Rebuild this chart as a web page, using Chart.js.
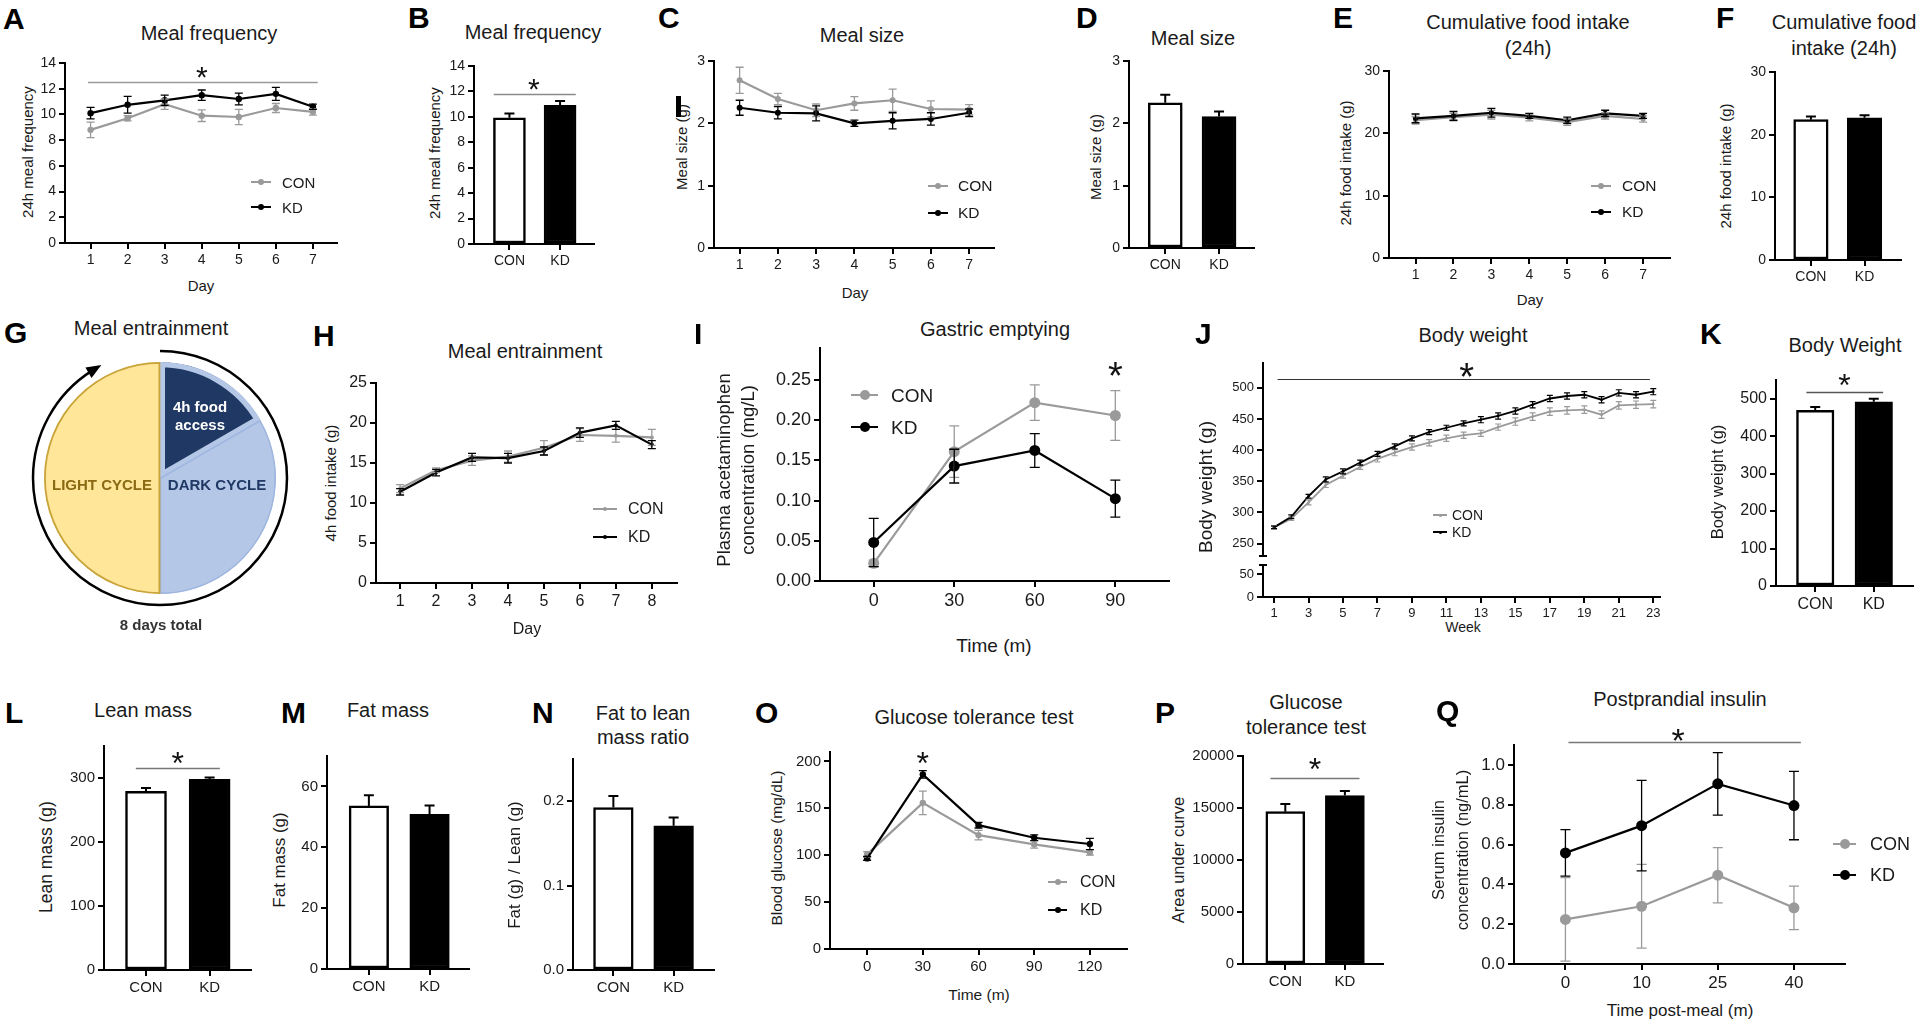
<!DOCTYPE html>
<html>
<head>
<meta charset="utf-8">
<title>Meal pattern, body weight and glucose panels</title>
<script src="https://cdn.jsdelivr.net/npm/chart.js"></script>
<style>
  body { margin: 0; background: #fff; }
  #fig { position: relative; width: 1920px; height: 1025px; overflow: hidden;
         font-family: "Liberation Sans", Arial, Helvetica, sans-serif; color: #1a1a1a; }
  #fig canvas { position: absolute; }
  .t { position: absolute; white-space: nowrap; line-height: 1; }
</style>
</head>
<body>
<div id="fig"></div>
<script>
const FONT = '"Liberation Sans", Arial, Helvetica, sans-serif';
const GREY = '#9a9a9a';
const BLACK = '#000000';

// ---------- data ----------
const groups = ['CON', 'KD'];
const days7 = [1, 2, 3, 4, 5, 6, 7];
const days8 = [1, 2, 3, 4, 5, 6, 7, 8];
const weeks = [1, 2, 3, 4, 5, 6, 7, 8, 9, 10, 11, 12, 13, 14, 15, 16, 17, 18, 19, 20, 21, 22, 23];
const weekTicks = [1, 3, 5, 7, 9, 11, 13, 15, 17, 19, 21, 23];

// A / B meal frequency
const freqTicks = [0, 2, 4, 6, 8, 10, 12, 14];
const freqCon = [8.8, 9.7, 10.8, 9.9, 9.8, 10.5, 10.2];
const freqConErr = [0.6, 0.2, 0.4, 0.45, 0.6, 0.35, 0.25];
const freqKd = [10.1, 10.75, 11.1, 11.5, 11.2, 11.6, 10.6];
const freqKdErr = [0.45, 0.65, 0.4, 0.4, 0.45, 0.5, 0.2];
const freqMeans = [9.92, 10.9];
const freqMeansErr = [0.34, 0.34];

// C / D meal size
const sizeTicks = [0, 1, 2, 3];
const sizeCon = [2.69, 2.39, 2.21, 2.32, 2.37, 2.23, 2.22];
const sizeConErr = [0.21, 0.09, 0.1, 0.11, 0.18, 0.13, 0.08];
const sizeKd = [2.25, 2.17, 2.16, 2.0, 2.04, 2.07, 2.17];
const sizeKdErr = [0.12, 0.1, 0.12, 0.05, 0.13, 0.1, 0.06];
const sizeMeans = [2.33, 2.11];
const sizeMeansErr = [0.13, 0.08];

// E / F cumulative intake
const intakeTicks = [0, 10, 20, 30];
const intakeCon = [22.1, 22.6, 23.0, 22.5, 21.8, 22.8, 22.3];
const intakeConErr = [0.6, 0.6, 0.7, 0.5, 0.5, 0.5, 0.5];
const intakeKd = [22.4, 22.8, 23.3, 22.8, 22.1, 23.2, 22.8];
const intakeKdErr = [0.7, 0.7, 0.7, 0.4, 0.5, 0.5, 0.4];
const intakeMeans = [22.4, 22.7];
const intakeMeansErr = [0.5, 0.4];

// G schedule (hours of the 24h cycle)
const pieLabels = ['4h food access', 'DARK CYCLE', 'LIGHT CYCLE'];
const pieHours = [4, 8, 12];

// H meal entrainment
const entrTicks = [0, 5, 10, 15, 20, 25];
const entrCon = [11.8, 14.1, 15.3, 15.8, 16.9, 18.5, 18.4, 18.2];
const entrConErr = [0.5, 0.3, 0.6, 0.7, 0.9, 0.8, 0.8, 1.0];
const entrKd = [11.4, 13.8, 15.7, 15.6, 16.5, 18.8, 19.7, 17.3];
const entrKdErr = [0.4, 0.4, 0.5, 0.6, 0.5, 0.6, 0.5, 0.5];

// I gastric emptying
const gastTimes = [0, 30, 60, 90];
const gastTicks = [0, 0.05, 0.1, 0.15, 0.2, 0.25];
const gastCon = [0.022, 0.161, 0.222, 0.206];
const gastConErr = [0.004, 0.032, 0.022, 0.031];
const gastKd = [0.048, 0.143, 0.1625, 0.1025];
const gastKdErr = [0.03, 0.021, 0.021, 0.023];

// J / K body weight
const bwTicksUpper = [250, 300, 350, 400, 450, 500];
const bwTicksLower = [0, 50];
const bwCon = [276, 290, 316, 344, 359, 373, 386, 396, 405, 412, 419, 424, 427, 437, 446, 454, 462, 464, 465, 457, 472, 473, 474];
const bwConErr = [3, 3, 4, 4, 4, 4, 5, 5, 5, 5, 5, 5, 5, 5, 6, 6, 6, 6, 6, 6, 6, 6, 6];
const bwKd = [276, 293, 326, 353, 366, 380, 394, 406, 419, 429, 436, 443, 449, 455, 463, 473, 483, 487, 489, 481, 492, 489, 494];
const bwKdErr = [2, 3, 3, 4, 4, 4, 4, 4, 4, 4, 4, 4, 5, 5, 5, 5, 5, 5, 5, 5, 5, 5, 5];
const bwBarTicks = [0, 100, 200, 300, 400, 500];
const bwMeans = [468.7, 492];
const bwMeansErr = [9, 8];

// L / M / N body composition
const leanTicks = [0, 100, 200, 300];
const leanMeans = [279.3, 298];
const leanErr = [5, 2.6];
const fatTicks = [0, 20, 40, 60];
const fatMeans = [53.6, 50.8];
const fatErr = [3.5, 2.9];
const ratioTicks = [0, 0.1, 0.2];
const ratioMeans = [0.1925, 0.1708];
const ratioErr = [0.0138, 0.0099];

// O / P glucose tolerance
const gttTimes = [0, 30, 60, 90, 120];
const gttTicks = [0, 50, 100, 150, 200];
const gttCon = [100.9, 155.8, 121.4, 111.5, 103];
const gttConErr = [3, 12.5, 5, 4, 3];
const gttKd = [96.6, 186.2, 132, 118.6, 111.9];
const gttKdErr = [2, 4, 3, 3, 6];
const aucTicks = [0, 5000, 10000, 15000, 20000];
const aucMeans = [14650, 16190];
const aucErr = [740, 450];

// Q postprandial insulin
const insTimeLabels = ['0', '10', '25', '40'];
const insTicks = [0, 0.2, 0.4, 0.6, 0.8, 1.0];
const insCon = [0.224, 0.29, 0.446, 0.282];
const insConErr = [0.21, 0.21, 0.139, 0.109];
const insKd = [0.558, 0.695, 0.905, 0.796];
const insKdErr = [0.117, 0.227, 0.157, 0.172];

// ---------- helpers ----------
const fig = document.getElementById('fig');
const PT = 26, PR = 16, YW = 70, XH = 34;

function text(str, x, y, size, opts = {}) {
  const d = document.createElement('div');
  d.className = 't';
  d.textContent = str;
  d.style.left = x + 'px';
  d.style.top = y + 'px';
  d.style.fontSize = size + 'px';
  let tf = opts.left ? 'translate(0,-50%)' : 'translate(-50%,-50%)';
  if (opts.rotate) tf += ' rotate(-90deg)';
  d.style.transform = tf;
  if (opts.bold) d.style.fontWeight = 'bold';
  if (opts.color) d.style.color = opts.color;
  fig.appendChild(d);
  return d;
}
const letter = (s, x, y) => text(s, x, y, 30, { left: true, bold: true, color: '#000' });
function title(lines, x, y, size = 20, gap = 25) {
  lines.forEach((s, i) => text(s, x, y + i * gap, size));
}

function legend(x1, x2, tx, ys, size, dot, lw) {
  [GREY, BLACK].forEach((col, i) => {
    const y = ys[i];
    const ln = document.createElement('div');
    ln.style.cssText = `position:absolute;left:${x1}px;top:${y - lw / 2}px;width:${x2 - x1}px;height:${lw}px;background:${col}`;
    fig.appendChild(ln);
    const dt = document.createElement('div');
    dt.style.cssText = `position:absolute;left:${(x1 + x2) / 2 - dot / 2}px;top:${y - dot / 2}px;width:${dot}px;height:${dot}px;border-radius:50%;background:${col}`;
    fig.appendChild(dt);
    text(groups[i], tx, y, size, { left: true });
  });
}

// error bars: symmetric for lines, upward only for bars
const errorBars = {
  id: 'errorBars',
  afterDatasetsDraw(chart) {
    const ctx = chart.ctx;
    const ys = chart.scales.y;
    chart.data.datasets.forEach((ds, di) => {
      if (!ds.err) return;
      const meta = chart.getDatasetMeta(di);
      ctx.save();
      ctx.strokeStyle = ds.errColor || ds.borderColor;
      ctx.lineWidth = ds.errWidth || 1.3;
      const cw = ds.capWidth || 4;
      meta.data.forEach((el, i) => {
        const v = ds.data[i].y;
        const e = ds.err[i];
        const top = ys.getPixelForValue(v + e);
        const bot = ds.isBar ? el.y : ys.getPixelForValue(v - e);
        ctx.beginPath();
        ctx.moveTo(el.x, top); ctx.lineTo(el.x, bot);
        ctx.moveTo(el.x - cw, top); ctx.lineTo(el.x + cw, top);
        if (!ds.isBar) { ctx.moveTo(el.x - cw, bot); ctx.lineTo(el.x + cw, bot); }
        ctx.stroke();
      });
      ctx.restore();
    });
  }
};

// significance bar and asterisk
const sig = {
  id: 'sig',
  afterDraw(chart, args, o) {
    if (!o || (!o.line && !o.star)) return;
    const { ctx, scales: { x, y } } = chart;
    ctx.save();
    if (o.line) {
      const py = Math.round(y.getPixelForValue(o.line.y)) + 0.5;
      ctx.strokeStyle = o.color || '#808080';
      ctx.lineWidth = o.width || 1.5;
      ctx.beginPath();
      ctx.moveTo(x.getPixelForValue(o.line.x1), py);
      ctx.lineTo(x.getPixelForValue(o.line.x2), py);
      ctx.stroke();
    }
    if (o.star) {
      const size = o.size || 28;
      ctx.fillStyle = '#111';
      ctx.font = `${size}px ${FONT}`;
      ctx.textAlign = 'center';
      ctx.textBaseline = 'alphabetic';
      ctx.fillText('*', x.getPixelForValue(o.star.x), y.getPixelForValue(o.star.y) + 0.57 * size);
    }
    ctx.restore();
  }
};

// little end caps where the body weight axis is broken
const breakCaps = {
  id: 'breakCaps',
  afterDraw(chart, args, o) {
    if (!o || !o.at) return;
    const { ctx, chartArea } = chart;
    const py = o.at === 'bottom' ? chartArea.bottom : chartArea.top;
    ctx.save();
    ctx.strokeStyle = '#000';
    ctx.lineWidth = 2;
    ctx.beginPath();
    ctx.moveTo(chartArea.left - 4, py); ctx.lineTo(chartArea.left + 4, py);
    ctx.stroke();
    ctx.restore();
  }
};

function axis(size, a) {
  return {
    type: 'linear', display: !a.hide, min: a.min, max: a.max, offset: false,
    border: { display: true, color: '#000', width: 2 },
    grid: { display: true, drawOnChartArea: false, drawTicks: true, tickLength: 6, color: '#000', lineWidth: 2, offset: false },
    ticks: { font: { family: FONT, size }, color: '#1a1a1a', padding: 3, maxRotation: 0, autoSkip: false,
             callback: a.fmt || (v => String(v)) },
    afterBuildTicks: s => { s.ticks = a.ticks.map(v => ({ value: v })); },
    afterFit: s => { if (a.horizontal) s.height = a.hide ? 0 : XH; else s.width = YW; }
  };
}

function baseOptions(o) {
  return {
    responsive: false, animation: false, events: [],
    layout: { padding: { top: PT, right: PR, left: 0, bottom: o.hideX ? 12 : 0 } },
    plugins: { legend: { display: false }, tooltip: { enabled: false }, sig: o.sig || {}, breakCaps: o.caps || {} },
    scales: {
      x: axis(o.tick, { min: o.x[0], max: o.x[1], ticks: o.xTicks, fmt: o.xFmt, hide: o.hideX, horizontal: true }),
      y: axis(o.tick, { min: o.y[0], max: o.y[1], ticks: o.yTicks, fmt: o.yFmt })
    }
  };
}

function addChart(rect, cfg, hideX) {
  const c = document.createElement('canvas');
  const xh = hideX ? 12 : XH;
  c.width = rect.r - rect.l + YW + PR;
  c.height = rect.b - rect.t + PT + xh;
  c.style.left = (rect.l - YW) + 'px';
  c.style.top = (rect.t - PT) + 'px';
  fig.appendChild(c);
  return new Chart(c, cfg);
}

function lineChart(rect, o) {
  const datasets = o.series.map((s, k) => ({
    data: o.xs.map((x, i) => ({ x, y: s.y[i] })),
    err: s.err,
    borderColor: s.color, backgroundColor: s.color,
    pointBackgroundColor: s.color, pointBorderColor: s.color, pointBorderWidth: 0,
    pointRadius: o.pointR, borderWidth: o.lineW, tension: 0,
    capWidth: o.capW, errWidth: o.errW || 1.3, order: o.series.length - k
  }));
  return addChart(rect, { type: 'line', data: { datasets }, options: baseOptions(o), plugins: [errorBars, sig, breakCaps] }, o.hideX);
}

function barChart(rect, o) {
  const datasets = [{
    data: o.means.map((y, i) => ({ x: i + 1, y })),
    err: o.err, isBar: true,
    backgroundColor: ['#ffffff', '#000000'], borderColor: '#000', borderWidth: 2.5, borderSkipped: false,
    barThickness: o.bw, capWidth: 5, errWidth: 2, errColor: '#000'
  }];
  const opts = baseOptions(Object.assign({ xTicks: [1, 2], xFmt: v => groups[v - 1] }, o));
  return addChart(rect, { type: 'bar', data: { datasets }, options: opts, plugins: [errorBars, sig] });
}

const series = (con, conErr, kd, kdErr) => [
  { y: con, err: conErr, color: GREY },
  { y: kd, err: kdErr, color: BLACK }
];

// ---------- A ----------
letter('A', 3, 19);
title(['Meal frequency'], 209, 33);
text('24h meal frequency', 27, 152, 15, { rotate: true });
text('Day', 201, 285, 15);
lineChart({ l: 65, t: 63, r: 337, b: 243 }, {
  xs: days7, x: [0.31, 7.65], xTicks: days7, y: [0, 14], yTicks: freqTicks, tick: 14,
  pointR: 3.2, lineW: 2.2, capW: 4, series: series(freqCon, freqConErr, freqKd, freqKdErr),
  sig: { line: { x1: 0.93, x2: 7.13, y: 12.5 }, star: { x: 4, y: 13.46 }, color: '#9a9a9a', size: 30 }
});
legend(251, 271, 282, [182, 207], 15, 6, 2);

// ---------- B ----------
letter('B', 408, 18);
title(['Meal frequency'], 533, 32);
text('24h meal frequency', 434, 153, 15, { rotate: true });
barChart({ l: 474, t: 66, r: 594, b: 244 }, {
  means: freqMeans, err: freqMeansErr, bw: 32, x: [0.3, 2.67], y: [0, 14], yTicks: freqTicks, tick: 14,
  sig: { line: { x1: 0.69, x2: 2.31, y: 11.77 }, star: { x: 1.48, y: 12.74 }, color: '#8a8a8a', size: 30 }
});

// ---------- C ----------
letter('C', 658, 18);
title(['Meal size'], 862, 35);
text('Meal size (g)', 681, 147, 15, { rotate: true });
text('Day', 855, 292, 15);
lineChart({ l: 714, t: 61, r: 994, b: 248 }, {
  xs: days7, x: [0.33, 7.65], xTicks: days7, y: [0, 3], yTicks: sizeTicks, tick: 14,
  pointR: 3, lineW: 2.2, capW: 4, series: series(sizeCon, sizeConErr, sizeKd, sizeKdErr)
});
legend(928, 948, 958, [186, 213], 15.5, 6, 2);
const smudge = document.createElement('div');
smudge.style.cssText = 'position:absolute;left:676px;top:96px;width:5px;height:21px;background:#000';
fig.appendChild(smudge);

// ---------- D ----------
letter('D', 1076, 18);
title(['Meal size'], 1193, 38);
text('Meal size (g)', 1095, 157, 15, { rotate: true });
barChart({ l: 1129, t: 61, r: 1254, b: 248 }, {
  means: sizeMeans, err: sizeMeansErr, bw: 34, x: [0.326, 2.65], y: [0, 3], yTicks: sizeTicks, tick: 14
});

// ---------- E ----------
letter('E', 1333, 18);
title(['Cumulative food intake', '(24h)'], 1528, 22, 20, 26);
text('24h food intake (g)', 1345, 163, 15, { rotate: true });
text('Day', 1530, 299, 15);
lineChart({ l: 1389, t: 71, r: 1670, b: 258 }, {
  xs: days7, x: [0.3, 7.71], xTicks: days7, y: [0, 30], yTicks: intakeTicks, tick: 14,
  pointR: 2.6, lineW: 2.2, capW: 4, series: series(intakeCon, intakeConErr, intakeKd, intakeKdErr)
});
legend(1591, 1611, 1622, [186, 212], 15.5, 6, 2);

// ---------- F ----------
letter('F', 1716, 18);
title(['Cumulative food', 'intake (24h)'], 1844, 22, 20, 26);
text('24h food intake (g)', 1725, 166, 15, { rotate: true });
barChart({ l: 1775, t: 72, r: 1901, b: 260 }, {
  means: intakeMeans, err: intakeMeansErr, bw: 34.5, x: [0.33, 2.68], y: [0, 30], yTicks: intakeTicks, tick: 14
});

// ---------- G ----------
letter('G', 4, 333);
title(['Meal entrainment'], 151, 328);
const cycleArrow = {
  id: 'cycleArrow',
  afterDraw(chart) {
    const arc = chart.getDatasetMeta(0).data[0];
    const cx = arc.x, cy = arc.y, r = arc.outerRadius + 11;
    const a0 = -Math.PI / 2, a1 = a0 + 2 * Math.PI * 0.915;
    const ctx = chart.ctx;
    ctx.save();
    ctx.strokeStyle = '#000'; ctx.fillStyle = '#000'; ctx.lineWidth = 2.5;
    ctx.beginPath(); ctx.arc(cx, cy, r, a0, a1 - 0.03); ctx.stroke();
    const px = cx + r * Math.cos(a1), py = cy + r * Math.sin(a1);
    const dx = -Math.sin(a1), dy = Math.cos(a1), nx = Math.cos(a1), ny = Math.sin(a1);
    ctx.beginPath();
    ctx.moveTo(px + dx * 7, py + dy * 7);
    ctx.lineTo(px - dx * 8 + nx * 6, py - dy * 8 + ny * 6);
    ctx.lineTo(px - dx * 8 - nx * 6, py - dy * 8 - ny * 6);
    ctx.closePath(); ctx.fill();
    ctx.restore();
  }
};
const pieCanvas = document.createElement('canvas');
pieCanvas.width = 290; pieCanvas.height = 290;
pieCanvas.style.left = '15px'; pieCanvas.style.top = '333px';
fig.appendChild(pieCanvas);
new Chart(pieCanvas, {
  type: 'pie',
  data: {
    labels: pieLabels,
    datasets: [{
      data: pieHours,
      backgroundColor: ['#203864', '#b4c7e7', '#ffe699'],
      borderColor: ['#b4c7e7', '#9db5df', '#c9a43a'],
      borderWidth: [5, 1.2, 1.5],
      borderAlign: 'inner'
    }]
  },
  options: {
    responsive: false, animation: false, events: [],
    layout: { padding: 29 },
    plugins: { legend: { display: false }, tooltip: { enabled: false } }
  },
  plugins: [cycleArrow]
});
text('LIGHT CYCLE', 102, 484, 15, { bold: true, color: '#8a6a12' });
text('DARK CYCLE', 217, 484, 15, { bold: true, color: '#203864' });
text('4h food', 200, 406, 15, { bold: true, color: '#ffffff' });
text('access', 200, 424, 15, { bold: true, color: '#ffffff' });
text('8 days total', 161, 624, 15, { bold: true, color: '#333' });

// ---------- H ----------
letter('H', 313, 336);
title(['Meal entrainment'], 525, 351);
text('4h food intake (g)', 330, 483, 15, { rotate: true });
text('Day', 527, 629, 16);
lineChart({ l: 376, t: 383, r: 677, b: 583 }, {
  xs: days8, x: [0.33, 8.7], xTicks: days8, y: [0, 25], yTicks: entrTicks, tick: 16,
  pointR: 2, lineW: 2.2, capW: 4, series: series(entrCon, entrConErr, entrKd, entrKdErr)
});
legend(593, 617, 628, [509, 537], 16, 4, 2);

// ---------- I ----------
letter('I', 694, 334);
title(['Gastric emptying'], 995, 329);
text('Plasma acetaminophen', 724, 470, 18.5, { rotate: true });
text('concentration (mg/L)', 748, 470, 18.5, { rotate: true });
text('Time (m)', 994, 645, 19);
lineChart({ l: 820, t: 348, r: 1169, b: 581 }, {
  xs: gastTimes, x: [-20, 110], xTicks: gastTimes, y: [0, 0.29], yTicks: gastTicks, yFmt: v => v.toFixed(2), tick: 18,
  pointR: 5.5, lineW: 2.2, capW: 5, series: series(gastCon, gastConErr, gastKd, gastKdErr),
  sig: { star: { x: 90, y: 0.266 }, size: 38 }
});
legend(851, 878, 891, [395, 427], 19, 10, 2.5);

// ---------- J ----------
letter('J', 1195, 334);
title(['Body weight'], 1473, 335);
text('Body weight (g)', 1205, 487, 19, { rotate: true });
text('Week', 1463, 627, 14);
lineChart({ l: 1263, t: 363, r: 1660, b: 556 }, {
  xs: weeks, x: [0.36, 23.39], xTicks: weekTicks, hideX: true, y: [230, 540], yTicks: bwTicksUpper, tick: 13,
  pointR: 1.3, lineW: 1.8, capW: 3, errW: 1.2, series: series(bwCon, bwConErr, bwKd, bwKdErr),
  sig: { line: { x1: 1.21, x2: 22.8, y: 514.5 }, star: { x: 12.17, y: 532 }, color: '#333', width: 1.2, size: 38 },
  caps: { at: 'bottom' }
});
lineChart({ l: 1263, t: 565, r: 1660, b: 597 }, {
  xs: [], x: [0.36, 23.39], xTicks: weekTicks, y: [0, 71], yTicks: bwTicksLower, tick: 13,
  pointR: 0, lineW: 0, capW: 0, series: [], caps: { at: 'top' }
});
legend(1433, 1447, 1452, [515, 532], 14, 3, 2);

// ---------- K ----------
letter('K', 1700, 334);
title(['Body Weight'], 1845, 345);
text('Body weight (g)', 1717, 482, 16.5, { rotate: true });
barChart({ l: 1776, t: 380, r: 1913, b: 586 }, {
  means: bwMeans, err: bwMeansErr, bw: 37.5, x: [0.33, 2.67], y: [0, 550], yTicks: bwBarTicks, tick: 16,
  sig: { line: { x1: 0.85, x2: 2.16, y: 518.5 }, star: { x: 1.5, y: 556 }, color: '#555', size: 32 }
});

// ---------- L ----------
letter('L', 5, 713);
title(['Lean mass'], 143, 710);
text('Lean mass (g)', 47, 857, 17.5, { rotate: true });
barChart({ l: 104, t: 746, r: 251, b: 970 }, {
  means: leanMeans, err: leanErr, bw: 41, x: [0.34, 2.65], y: [0, 350], yTicks: leanTicks, tick: 15,
  sig: { line: { x1: 0.84, x2: 2.16, y: 315.6 }, star: { x: 1.5, y: 335.4 }, color: '#777', size: 32 }
});

// ---------- M ----------
letter('M', 281, 713);
title(['Fat mass'], 388, 710);
text('Fat mass (g)', 279, 860, 17, { rotate: true });
barChart({ l: 327, t: 756, r: 469, b: 969 }, {
  means: fatMeans, err: fatErr, bw: 39.5, x: [0.31, 2.65], y: [0, 70], yTicks: fatTicks, tick: 15
});

// ---------- N ----------
letter('N', 532, 713);
title(['Fat to lean', 'mass ratio'], 643, 713, 20, 24);
text('Fat (g) / Lean (g)', 514, 865, 17, { rotate: true });
barChart({ l: 573, t: 759, r: 714, b: 970 }, {
  means: ratioMeans, err: ratioErr, bw: 39.7, x: [0.33, 2.67], y: [0, 0.25], yTicks: ratioTicks, yFmt: v => v.toFixed(1), tick: 15
});

// ---------- O ----------
letter('O', 755, 713);
title(['Glucose tolerance test'], 974, 717);
text('Blood glucose (mg/dL)', 777, 848, 15.5, { rotate: true });
text('Time (m)', 979, 995, 15.5);
lineChart({ l: 830, t: 752, r: 1127, b: 949 }, {
  xs: gttTimes, x: [-20, 140], xTicks: gttTimes, y: [0, 210], yTicks: gttTicks, tick: 15,
  pointR: 3.2, lineW: 2.2, capW: 4, series: series(gttCon, gttConErr, gttKd, gttKdErr),
  sig: { star: { x: 30, y: 206.3 }, size: 32 }
});
legend(1048, 1067, 1080, [882, 910], 16, 6, 2);

// ---------- P ----------
letter('P', 1155, 713);
title(['Glucose', 'tolerance test'], 1306, 702);
text('Area under curve', 1178, 860, 16.5, { rotate: true });
barChart({ l: 1243, t: 756, r: 1383, b: 964 }, {
  means: aucMeans, err: aucErr, bw: 39, x: [0.29, 2.64], y: [0, 20000], yTicks: aucTicks, tick: 15,
  sig: { line: { x1: 0.75, x2: 2.245, y: 17856 }, star: { x: 1.5, y: 19452 }, color: '#777', size: 32 }
});

// ---------- Q ----------
letter('Q', 1436, 711);
title(['Postprandial insulin'], 1680, 699);
text('Serum insulin', 1438, 850, 16.5, { rotate: true });
text('concentration (ng/mL)', 1462, 850, 16.5, { rotate: true });
text('Time post-meal (m)', 1680, 1010, 17);
lineChart({ l: 1514, t: 745, r: 1845, b: 964 }, {
  xs: insTimeLabels.map((_, i) => i), x: [-0.675, 3.67], xTicks: insTimeLabels.map((_, i) => i), xFmt: v => insTimeLabels[v],
  y: [0, 1.1], yTicks: insTicks, yFmt: v => v.toFixed(1), tick: 17,
  pointR: 5.5, lineW: 2.2, capW: 5, series: series(insCon, insConErr, insKd, insKdErr),
  sig: { line: { x1: 0.04, x2: 3.09, y: 1.114 }, star: { x: 1.48, y: 1.164 }, color: '#777', size: 34 }
});
legend(1833, 1856, 1870, [844, 875], 18, 10, 2.5);
</script>
</body>
</html>
